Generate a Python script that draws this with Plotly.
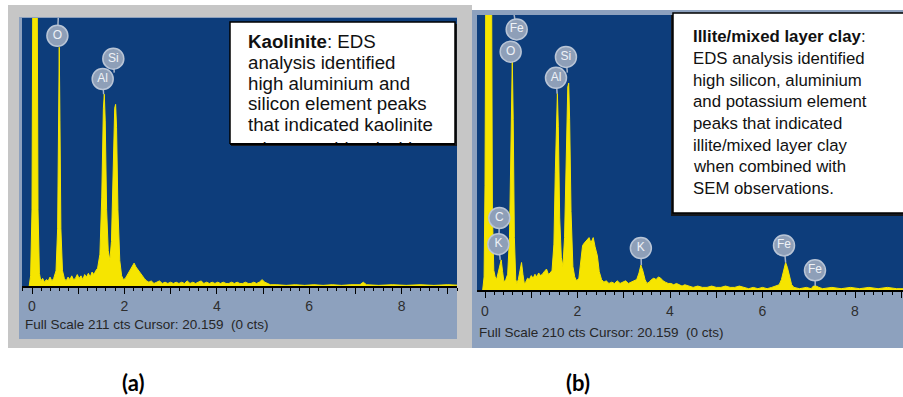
import plotly.graph_objects as go

W, H = 903, 397

# ---------------- data ----------------
# Panel (a): Kaolinite spectrum, energy (keV) and counts
KEV_A = [-0.06, -0.03, 0.0, 0.02, 0.11, 0.13, 0.16, 0.19, 0.23, 0.27, 0.31, 0.35, 0.39, 0.43,
         0.47, 0.52, 0.555, 0.575, 0.59, 0.605, 0.625, 0.66, 0.70,
         0.74, 0.78, 0.82, 0.86, 0.90, 0.94, 0.98, 1.02, 1.06, 1.10, 1.14, 1.18, 1.22, 1.26, 1.30, 1.34, 1.38,
         1.42, 1.47, 1.51, 1.545, 1.565, 1.585, 1.615, 1.65, 1.685,
         1.72, 1.76, 1.79, 1.81, 1.83, 1.86, 1.90, 1.94, 1.98, 2.02,
         2.07, 2.12, 2.17, 2.21, 2.25, 2.29, 2.33, 2.38, 2.43, 2.48,
         2.53, 2.58, 2.64, 2.70, 2.76, 2.82, 2.88, 2.94, 3.00, 3.06, 3.12, 3.18, 3.24, 3.30, 3.36, 3.42,
         3.48, 3.54, 3.60, 3.66, 3.72, 3.78, 3.84, 3.90, 3.96, 4.02, 4.08, 4.14, 4.20, 4.26, 4.32, 4.38,
         4.44, 4.50, 4.56, 4.62, 4.68, 4.74, 4.80, 4.86, 4.92, 4.98, 5.04, 5.10, 5.16, 5.30, 5.50, 5.70,
         5.90, 6.10, 6.30, 6.50, 6.70, 6.90, 7.10, 7.17, 7.24, 7.50, 7.80, 8.10, 8.40, 8.70, 9.00, 9.30]
CTS_A = [0, 8, 60, 260, 260, 60, 10, 4, 6, 3, 5, 4, 7, 4,
         6, 12, 45, 130, 188, 130, 45, 12, 6,
         4, 7, 5, 8, 5, 6, 9, 6, 8, 5, 9, 7, 10, 7, 11, 9, 12,
         14, 25, 70, 140, 151, 130, 60, 28, 20,
         35, 90, 140, 143, 125, 60, 20, 8, 5, 6,
         9, 13, 16, 18, 15, 13, 10, 8, 6, 4,
         3, 4, 2, 3, 4, 2, 3, 2, 3, 2, 3, 2, 3, 2, 4, 2,
         3, 2, 3, 4, 2, 3, 2, 3, 2, 3, 2, 3, 2, 2, 3, 2,
         3, 2, 2, 3, 2, 2, 3, 2, 3, 5, 3, 2, 1, 1, 0.5, 1,
         0.5, 1, 0.5, 1, 0.5, 1, 1, 3, 1, 0.5, 1, 0.5, 1, 0.5, 1, 0.5]

# Panel (b): Illite / mixed layer clay spectrum
KEV_B = [-0.05, -0.02, 0.0, 0.02, 0.14, 0.16, 0.19, 0.22, 0.25, 0.29, 0.33, 0.35, 0.38, 0.41, 0.45,
         0.49, 0.53, 0.565, 0.59, 0.61, 0.635, 0.665, 0.69, 0.72, 0.76, 0.79, 0.82, 0.85, 0.88,
         0.92, 0.96, 1.00, 1.04, 1.08, 1.12, 1.16, 1.20, 1.24, 1.28, 1.33, 1.37, 1.41,
         1.45, 1.49, 1.52, 1.55, 1.565, 1.585, 1.615, 1.65, 1.685,
         1.72, 1.76, 1.79, 1.81, 1.83, 1.86, 1.90, 1.94, 1.98, 2.03,
         2.07, 2.11, 2.15, 2.20, 2.25, 2.29, 2.34, 2.38, 2.43, 2.47, 2.52,
         2.57, 2.62, 2.68, 2.74, 2.80, 2.86, 2.92, 2.98, 3.04, 3.10, 3.16, 3.22,
         3.28, 3.33, 3.37, 3.41, 3.46, 3.50, 3.55, 3.60, 3.65, 3.70, 3.75, 3.80, 3.85, 3.90, 3.96,
         4.02, 4.08, 4.14, 4.20, 4.26, 4.32, 4.40, 4.50, 4.60, 4.70, 4.80, 4.90, 5.00, 5.10, 5.20,
         5.30, 5.40, 5.50, 5.60, 5.70, 5.80, 5.90, 6.00, 6.10, 6.20, 6.30,
         6.36, 6.41, 6.46, 6.50, 6.54, 6.58, 6.63, 6.68, 6.80, 6.95, 7.05, 7.10, 7.16, 7.22, 7.30,
         7.50, 7.70, 7.90, 8.10, 8.30, 8.50, 8.70, 8.90, 9.10]
CTS_B = [0, 10, 80, 260, 260, 60, 15, 10, 8, 14, 20, 23, 14, 6, 8,
         12, 40, 130, 176, 130, 40, 8, 5, 8, 16, 21, 12, 5, 6,
         9, 8, 11, 9, 12, 10, 13, 11, 12, 14, 16, 12, 13,
         15, 35, 90, 145, 150, 125, 55, 25, 18,
         40, 110, 155, 158, 130, 60, 18, 10, 7, 9,
         20, 34, 36, 38, 40, 36, 40, 33, 26, 14, 8,
         6, 7, 5, 6, 5, 7, 5, 6, 7, 5, 6, 7,
         8, 13, 19, 15, 8, 5, 6, 8, 9, 8, 10, 9, 7, 6, 5,
         5, 4, 5, 4, 3, 4, 3, 2, 3, 2, 2, 3, 2, 2, 3,
         2, 2, 3, 2, 1, 2, 1, 2, 1, 2, 3,
         4, 8, 15, 21, 17, 10, 4, 2, 1, 2, 1, 3, 3, 2, 1,
         2, 1, 2, 1, 2, 1, 2, 1, 1]

# Element markers: label, position (keV, counts), and end point of the leader stem
LABELS_A = ["O", "Si", "Al"]
LABEL_KEV_A = [0.55, 1.76, 1.53]
LABEL_CTS_A = [197, 179, 163]
STEM_KEV_A = [0.57, 1.78, 1.55]
STEM_CTS_A = [212, 168, 151]

LABELS_B = ["Fe", "O", "Si", "Al", "C", "K", "K", "Fe", "Fe"]
LABEL_KEV_B = [0.685, 0.555, 1.75, 1.535, 0.31, 0.29, 3.37, 6.465, 7.135]
LABEL_CTS_B = [199, 182, 178, 162, 55, 35, 32, 34, 15]
STEM_KEV_B = [0.62, 0.59, 1.78, 1.56, 0.30, 0.33, 3.38, 6.50, 7.14]
STEM_CTS_B = [212, 176, 166, 150, 35, 23, 19, 21, 3]

TICK_VALS = [0, 1, 2, 3, 4, 5, 6, 7, 8, 9]
TICK_TEXT = ["0", "", "2", "", "4", "", "6", "", "8", ""]

FULL_SCALE_A = 211
FULL_SCALE_B = 210
CURSOR_KEV = "20.159"
CURSOR_CTS = 0

TEXT_A = ["<b>Kaolinite</b>: EDS",
          "analysis identified",
          "high aluminium and",
          "silicon element peaks",
          "that indicated kaolinite",
          "when combined with"]
TEXT_B = ["<b>Illite/mixed layer clay</b>:",
          "EDS analysis identified",
          "high silicon, aluminium",
          "and potassium element",
          "peaks that indicated",
          "illite/mixed layer clay",
          "when combined with",
          "SEM observations."]
CAPTIONS = ["(a)", "(b)"]

# ---------------- styling / layout ----------------
PLOT_BG = "#0d3d7b"
FRAME_BG = "#8da1be"
GRAY = "#c6c6c6"
YELLOW = "#f6e500"
BADGE = "#8e9fb8"
FONT = "Liberation Sans, Arial, sans-serif"


def fx(p):
    return p / W


def fy(p):
    return 1 - p / H


# pixel boxes of the two plotting areas
A_L, A_R, A_T, A_B = 22, 457, 18, 286
B_L, B_R, B_T, B_B = 477, 903, 15, 290
A_ZERO, A_PPK = 32, 46.2
B_ZERO, B_PPK = 485, 46.25

fig = go.Figure()


def add_panel(kev, cts, labels, lk, lc, sk, sc, xa, ya):
    fig.add_trace(go.Scatter(x=kev, y=cts, mode="lines", fill="tozeroy",
                             fillcolor=YELLOW, line=dict(color=YELLOW, width=1),
                             xaxis=xa, yaxis=ya, hoverinfo="skip", showlegend=False))
    sx, sy = [], []
    for a, b, c, d in zip(lk, lc, sk, sc):
        sx += [a, c, None]
        sy += [b, d, None]
    fig.add_trace(go.Scatter(x=sx, y=sy, mode="lines",
                             line=dict(color="#a8b6ca", width=1.5),
                             xaxis=xa, yaxis=ya, hoverinfo="skip", showlegend=False))
    fig.add_trace(go.Scatter(x=lk, y=lc, mode="markers+text", text=labels,
                             textposition="middle center",
                             textfont=dict(family=FONT, size=12, color="#eef2f7"),
                             marker=dict(size=21, color=BADGE,
                                         line=dict(color="#b9c5d6", width=1.5)),
                             xaxis=xa, yaxis=ya, hoverinfo="skip", showlegend=False,
                             cliponaxis=False))


add_panel(KEV_A, CTS_A, LABELS_A, LABEL_KEV_A, LABEL_CTS_A, STEM_KEV_A, STEM_CTS_A, "x", "y")
add_panel(KEV_B, CTS_B, LABELS_B, LABEL_KEV_B, LABEL_CTS_B, STEM_KEV_B, STEM_CTS_B, "x2", "y2")

xcommon = dict(showgrid=False, zeroline=False, showline=True, linecolor="black", linewidth=2,
               tickmode="array", tickvals=TICK_VALS, ticktext=TICK_TEXT,
               ticks="outside", ticklen=6, tickwidth=1, tickcolor="black",
               tickfont=dict(family=FONT, size=14, color="#2e2e2e"),
               minor=dict(tickmode="linear", tick0=0, dtick=0.2, ticks="outside",
                          ticklen=3, tickcolor="black", tickwidth=1),
               automargin=False, fixedrange=True)
ycommon = dict(showgrid=False, zeroline=False, showline=False, showticklabels=False,
               ticks="", automargin=False, fixedrange=True)

fig.update_layout(
    width=W, height=H, margin=dict(l=0, r=0, t=0, b=0),
    paper_bgcolor="white", plot_bgcolor=PLOT_BG,
    xaxis=dict(domain=[fx(A_L), fx(A_R)],
               range=[(A_L - A_ZERO) / A_PPK, (A_R - A_ZERO) / A_PPK],
               anchor="y", ticklabelstandoff=0, **xcommon),
    yaxis=dict(domain=[fy(A_B), fy(A_T)], range=[0, FULL_SCALE_A], anchor="x", **ycommon),
    xaxis2=dict(domain=[fx(B_L), fx(B_R)],
                range=[(B_L - B_ZERO) / B_PPK, (B_R - B_ZERO) / B_PPK],
                anchor="y2", ticklabelstandoff=1, **xcommon),
    yaxis2=dict(domain=[fy(B_B), fy(B_T)], range=[0, FULL_SCALE_B], anchor="x2", **ycommon),
)


def rect(x0, y0, x1, y1, fill, layer="below", line=None):
    return dict(type="rect", xref="paper", yref="paper",
                x0=fx(x0), x1=fx(x1), y0=fy(y1), y1=fy(y0),
                fillcolor=fill, layer=layer,
                line=line if line else dict(width=0))


shapes = [
    rect(8, 5, 472, 348, GRAY),
    rect(19, 17, 457, 339, FRAME_BG),
    rect(472, 10, 905, 348, FRAME_BG),
    rect(A_L, A_T, A_R, A_B, PLOT_BG),
    rect(B_L, B_T, B_R + 2, B_B, PLOT_BG),
    # text boxes
    rect(232, 24, 457, 147, "#15181d", layer="above"),
    rect(230, 22, 455, 144, "white", layer="above", line=dict(color="black", width=1.5)),
    rect(671, 15, 905, 216, "#15181d", layer="above"),
    rect(673, 13, 905, 213, "white", layer="above", line=dict(color="black", width=1.5)),
]
fig.update_layout(shapes=shapes)

ann = []
# Text box (a)
LINE_Y_A = [41.7, 62.4, 83.1, 103.8, 124.5, 148.5]
for t, yy in zip(TEXT_A, LINE_Y_A):
    ann.append(dict(xref="paper", yref="paper", x=fx(246), y=fy(yy),
                    xanchor="left", yanchor="middle", text=t, showarrow=False,
                    font=dict(family=FONT, size=18.7, color="#111111")))
# cover the clipped part of the last line, then redraw the bottom border/shadow
ann.append(dict(xref="paper", yref="paper", x=fx(229), y=fy(143.5), xanchor="left", yanchor="top",
                text=" ", showarrow=False, width=228, height=20, bgcolor=PLOT_BG,
                borderpad=0, borderwidth=0))
ann.append(dict(xref="paper", yref="paper", x=fx(231), y=fy(143.2), xanchor="left", yanchor="top",
                text=" ", showarrow=False, width=226, height=3, bgcolor="#15181d",
                borderpad=0, borderwidth=0))
ann.append(dict(xref="paper", yref="paper", x=fx(230), y=fy(142.5), xanchor="left", yanchor="top",
                text=" ", showarrow=False, width=225, height=1.5, bgcolor="black",
                borderpad=0, borderwidth=0))
# Text box (b)
for i, t in enumerate(TEXT_B):
    ann.append(dict(xref="paper", yref="paper", x=fx(691), y=fy(36.7 + 21.7 * i),
                    xanchor="left", yanchor="middle", text=t, showarrow=False,
                    font=dict(family=FONT, size=16.8, color="#111111")))
# Footer lines
ann.append(dict(xref="paper", yref="paper", x=fx(23), y=fy(324), xanchor="left", yanchor="middle",
                text=f"Full Scale {FULL_SCALE_A} cts Cursor: {CURSOR_KEV}\u00a0 ({CURSOR_CTS} cts)",
                showarrow=False, font=dict(family=FONT, size=13.5, color="#262626")))
ann.append(dict(xref="paper", yref="paper", x=fx(477), y=fy(332.5), xanchor="left", yanchor="middle",
                text=f"Full Scale {FULL_SCALE_B} cts Cursor: {CURSOR_KEV}\u00a0 ({CURSOR_CTS} cts)",
                showarrow=False, font=dict(family=FONT, size=13.5, color="#262626")))
# Captions
for cx, c in zip([133, 578], CAPTIONS):
    ann.append(dict(xref="paper", yref="paper", x=fx(cx), y=fy(382), xanchor="center",
                    yanchor="middle", text=f"<b>{c}</b>", showarrow=False,
                    font=dict(family="Lato, Liberation Sans, sans-serif", size=22, color="black")))
fig.update_layout(annotations=ann)

fig.write_html("out.html", config={"displayModeBar": False, "staticPlot": True},
               post_script="document.body.style.margin='0px';document.body.style.overflow='hidden';")
